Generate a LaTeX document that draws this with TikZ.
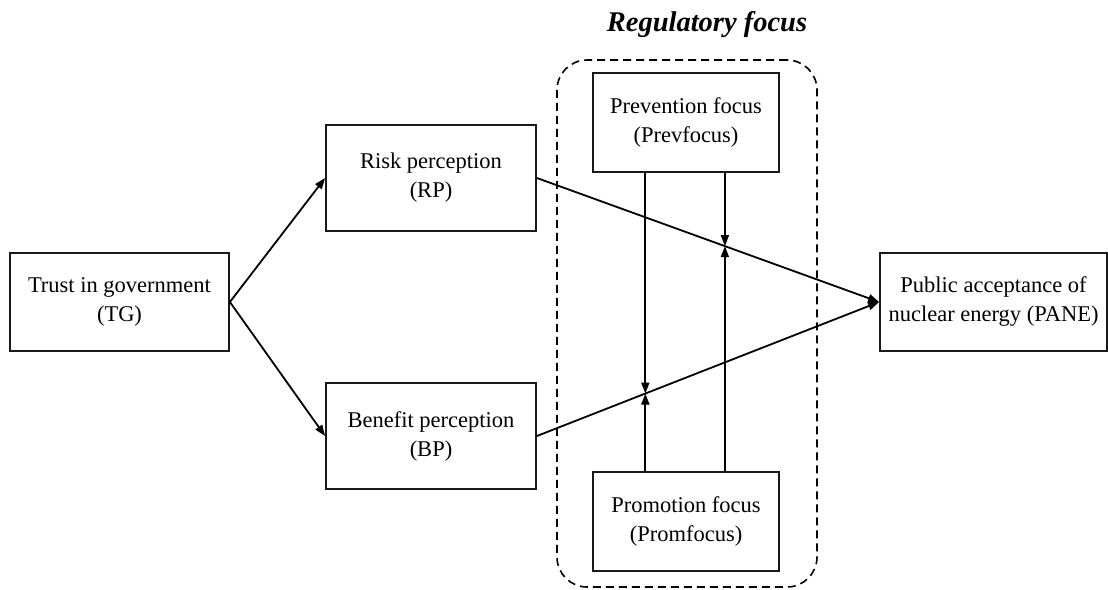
\documentclass[tikz,border=0pt]{standalone}
\usepackage{fontspec}
\setmainfont{Liberation Serif}
\usetikzlibrary{arrows.meta,calc}
\begin{document}
\begin{tikzpicture}[x=1pt,y=-1pt,
  box/.style={draw=black!90, line width=1.8pt, align=center, inner sep=0pt,
    font=\fontsize{22.5}{29}\selectfont},
  arr/.style={line width=1.8pt, -{Triangle[length=11pt,width=8pt]}}]
\useasboundingbox (0,0) rectangle (1108,589);
\node[draw, line width=1.6pt, dash pattern=on 8pt off 5pt, rounded corners=30pt,
  minimum width=260pt, minimum height=527pt] (rf) at (687,323.5) {};
\node[font=\fontsize{28.5}{32}\selectfont\bfseries\itshape] (title) at (707,25) {Regulatory focus};
\node[box, minimum width=219pt, minimum height=98pt] (tg) at (119.5,302) {Trust in government\\(TG)};
\node[box, minimum width=210pt, minimum height=106pt] (rp) at (431,178) {Risk perception\\(RP)};
\node[box, minimum width=210pt, minimum height=106pt] (bp) at (431,436) {Benefit perception\\(BP)};
\node[box, minimum width=186pt, minimum height=99pt] (prev) at (686,122.5) {Prevention focus\\(Prevfocus)};
\node[box, minimum width=186pt, minimum height=99pt] (prom) at (686,521.5) {Promotion focus\\(Promfocus)};
\node[box, minimum width=227pt, minimum height=98pt] (pane) at (993.5,302) {Public acceptance of\\nuclear energy (PANE)};
\draw[arr] (tg.east) -- (rp.west);
\draw[arr] (tg.east) -- (bp.west);
\draw[arr] (rp.east) -- (pane.west);
\draw[arr] (bp.east) -- (pane.west);
\coordinate (m1) at ($(rp.east)!0.5494!(pane.west)$);
\coordinate (m2) at ($(bp.east)!0.3169!(pane.west)$);
\draw[arr] (prev.south -| m1) -- (m1);
\draw[arr] (prom.north -| m1) -- (m1);
\draw[arr] (prev.south -| m2) -- (m2);
\draw[arr] (prom.north -| m2) -- (m2);
\end{tikzpicture}
\end{document}
